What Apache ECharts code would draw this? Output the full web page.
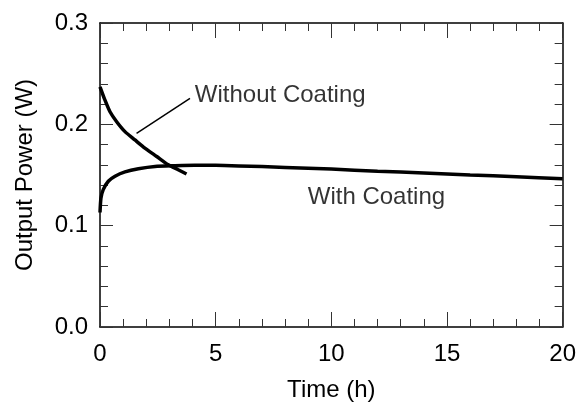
<!DOCTYPE html>
<html><head><meta charset="utf-8">
<script src="https://cdn.jsdelivr.net/npm/echarts@6/dist/echarts.min.js"></script>
<style>html,body{margin:0;padding:0;background:#fff}#c{width:579px;height:407px}</style>
</head><body><div id="c"></div>
<script>
var withoutT = [0, 0.216, 0.432, 0.72, 1.08, 1.51, 1.94, 2.45, 2.95, 3.38, 3.74];
var withoutP = [0.237, 0.2238, 0.2124, 0.2026, 0.1928, 0.1846, 0.1765, 0.1683, 0.1601, 0.1552, 0.1510];
var withT = [0, 0.04, 0.14, 0.36, 0.65, 1.08, 1.66, 2.38, 3.24, 4.1, 5, 6, 8, 10, 12, 14, 16, 18, 20];
var withP = [0.113, 0.127, 0.1356, 0.1438, 0.1487, 0.153, 0.1562, 0.1585, 0.1591, 0.1595, 0.1595, 0.159, 0.1575, 0.1558, 0.1538, 0.152, 0.150, 0.1483, 0.1464];
var xTicks = [0, 5, 10, 15, 20];
var yTicks = [0.0, 0.1, 0.2, 0.3];
var labelWithout = {text: 'Without Coating', t: 4.1, p: 0.2285};
var labelWith = {text: 'With Coating', t: 8.98, p: 0.1275};
var leaderT = [1.58, 3.89];
var leaderP = [0.191, 0.2255];

function zip(a, b) { return a.map(function (v, i) { return [v, b[i]]; }); }
var F = 'Liberation Sans, Arial, sans-serif';
var FS = 24;
var chart = echarts.init(document.getElementById('c'));
var axLine = {show: true, onZero: false, lineStyle: {color: '#000', width: 1.5}};
var tickStyle = {color: '#333', width: 1};
var baseX = {type: 'value', min: xTicks[0], max: xTicks[xTicks.length - 1], interval: 5,
  axisLine: axLine, splitLine: {show: false},
  axisTick: {show: true, inside: true, length: 15, lineStyle: tickStyle},
  minorTick: {show: true, splitNumber: 5, length: 8, lineStyle: tickStyle}};
var baseY = {type: 'value', min: yTicks[0], max: yTicks[yTicks.length - 1], interval: 0.1,
  axisLine: axLine, splitLine: {show: false},
  axisTick: {show: true, inside: true, length: 13, lineStyle: tickStyle},
  minorTick: {show: true, splitNumber: 5, length: 8, lineStyle: tickStyle}};
chart.setOption({
  animation: false,
  backgroundColor: '#fff',
  grid: {left: 100, right: 16, top: 23, bottom: 77},
  xAxis: [
    Object.assign({}, baseX, {position: 'bottom', name: 'Time (h)', nameLocation: 'middle', nameGap: 51,
      nameTextStyle: {fontFamily: F, fontSize: FS, color: '#000'},
      axisLabel: {fontFamily: F, fontSize: FS, color: '#000', margin: 15}}),
    Object.assign({}, baseX, {position: 'top', axisLabel: {show: false}})
  ],
  yAxis: [
    Object.assign({}, baseY, {position: 'left', name: 'Output Power (W)', nameLocation: 'middle', nameGap: 63,
      nameTextStyle: {fontFamily: F, fontSize: FS, color: '#000'},
      axisLabel: {fontFamily: F, fontSize: FS, color: '#000', margin: 12,
        formatter: function (v) { return v.toFixed(1); }}}),
    Object.assign({}, baseY, {position: 'right', axisLabel: {show: false}})
  ],
  series: [
    {type: 'line', data: zip(withoutT, withoutP), smooth: 0.2, symbol: 'none',
      lineStyle: {color: '#000', width: 3.5}},
    {type: 'line', data: zip(withT, withP), smooth: 0.2, symbol: 'none',
      lineStyle: {color: '#000', width: 3.5}},
    {type: 'line', data: zip(leaderT, leaderP), symbol: 'none',
      lineStyle: {color: '#000', width: 1.5}},
    {type: 'scatter', symbolSize: 0, silent: true,
      data: [[labelWithout.t, labelWithout.p, labelWithout.text], [labelWith.t, labelWith.p, labelWith.text]],
      label: {show: true, position: 'right', distance: 0, color: '#000', fontFamily: F, fontSize: FS,
        formatter: function (p) { return p.data[2]; }}}
  ]
});
</script></body></html>
